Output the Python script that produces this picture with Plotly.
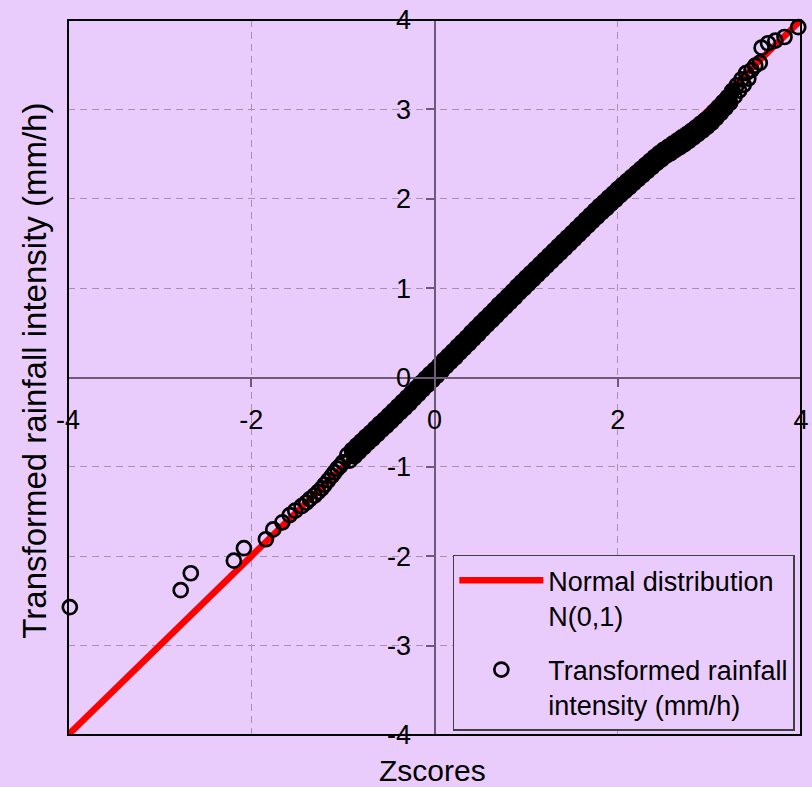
import plotly.graph_objects as go

# Normal reference line N(0,1)
normal_z = [-4, 4]
normal_y = [-4, 4]

# Lower tail of the sorted sample (z-score, transformed intensity)
tail_low_z = [
    -3.98, -2.77, -2.66, -2.19, -2.08, -1.84, -1.76, -1.66, -1.58, -1.52,
    -1.45, -1.40, -1.36, -1.31, -1.27, -1.23, -1.20, -1.16, -1.12, -1.09,
    -1.06, -1.03, -1.00,
]
tail_low_v = [
    -2.57, -2.38, -2.19, -2.05, -1.91, -1.81, -1.70, -1.62, -1.54, -1.49,
    -1.44, -1.40, -1.36, -1.32, -1.28, -1.24, -1.20, -1.15, -1.10, -1.06,
    -1.02, -0.99, -0.95,
]

# Bulk of the sample (dense band around the reference line)
bulk_z = [
    -0.950, -0.925, -0.900, -0.875,
    -0.850, -0.825, -0.800, -0.775,
    -0.750, -0.725, -0.700, -0.675,
    -0.650, -0.625, -0.600, -0.575,
    -0.550, -0.525, -0.500, -0.475,
    -0.450, -0.425, -0.400, -0.375,
    -0.350, -0.325, -0.300, -0.275,
    -0.250, -0.225, -0.200, -0.175,
    -0.150, -0.125, -0.100, -0.075,
    -0.050, -0.025, 0.000, 0.025,
    0.050, 0.075, 0.100, 0.125,
    0.150, 0.175, 0.200, 0.225,
    0.250, 0.275, 0.300, 0.325,
    0.350, 0.375, 0.400, 0.425,
    0.450, 0.475, 0.500, 0.525,
    0.550, 0.575, 0.600, 0.625,
    0.650, 0.675, 0.700, 0.725,
    0.750, 0.775, 0.800, 0.825,
    0.850, 0.875, 0.900, 0.925,
    0.950, 0.975, 1.000, 1.025,
    1.050, 1.075, 1.100, 1.125,
    1.150, 1.175, 1.200, 1.225,
    1.250, 1.275, 1.300, 1.325,
    1.350, 1.375, 1.400, 1.425,
    1.450, 1.475, 1.500, 1.525,
    1.550, 1.575, 1.600, 1.625,
    1.650, 1.675, 1.700, 1.725,
    1.750, 1.775, 1.800, 1.825,
    1.850, 1.875, 1.900, 1.925,
    1.950, 1.975, 2.000, 2.025,
    2.050, 2.075, 2.100, 2.125,
    2.150, 2.175, 2.200, 2.225,
    2.250, 2.275, 2.300, 2.325,
    2.350, 2.375, 2.400, 2.425,
    2.450, 2.475, 2.500, 2.525,
    2.550, 2.575, 2.600, 2.625,
    2.650, 2.675, 2.700, 2.725,
    2.750, 2.775, 2.800, 2.825,
    2.850, 2.875, 2.900, 2.925,
    2.950, 2.975, 3.000, 3.025,
    3.050, 3.075, 3.100, 3.125,
    3.150, 3.175, 3.200, 3.225,
    3.250, 3.275, 3.300, 3.325,
    3.350, 3.375, 3.400, 3.425,
]
bulk_v = [
    -0.865, -0.930, -0.815, -0.880,
    -0.765, -0.830, -0.715, -0.780,
    -0.665, -0.730, -0.620, -0.685,
    -0.570, -0.635, -0.520, -0.585,
    -0.475, -0.540, -0.425, -0.490,
    -0.375, -0.440, -0.325, -0.390,
    -0.275, -0.340, -0.225, -0.290,
    -0.170, -0.235, -0.120, -0.185,
    -0.065, -0.130, -0.015, -0.080,
    0.035, -0.030, 0.085, 0.020,
    0.135, 0.070, 0.190, 0.125,
    0.240, 0.175, 0.290, 0.225,
    0.345, 0.280, 0.395, 0.330,
    0.445, 0.380, 0.500, 0.435,
    0.550, 0.485, 0.605, 0.540,
    0.655, 0.590, 0.705, 0.640,
    0.755, 0.690, 0.810, 0.745,
    0.860, 0.795, 0.910, 0.845,
    0.960, 0.895, 1.015, 0.950,
    1.065, 1.000, 1.115, 1.050,
    1.165, 1.100, 1.215, 1.150,
    1.265, 1.200, 1.315, 1.250,
    1.365, 1.300, 1.415, 1.350,
    1.465, 1.400, 1.515, 1.450,
    1.565, 1.500, 1.615, 1.550,
    1.665, 1.600, 1.715, 1.650,
    1.765, 1.700, 1.815, 1.750,
    1.865, 1.800, 1.915, 1.850,
    1.960, 1.895, 2.010, 1.945,
    2.055, 1.990, 2.105, 2.040,
    2.150, 2.085, 2.195, 2.130,
    2.240, 2.175, 2.285, 2.220,
    2.330, 2.265, 2.375, 2.310,
    2.420, 2.355, 2.465, 2.400,
    2.505, 2.440, 2.545, 2.480,
    2.580, 2.510, 2.615, 2.545,
    2.650, 2.575, 2.685, 2.610,
    2.720, 2.645, 2.755, 2.685,
    2.795, 2.725, 2.835, 2.765,
    2.875, 2.805, 2.915, 2.850,
    2.970, 2.905, 3.025, 2.960,
    3.080, 3.015, 3.135, 3.075,
    3.205, 3.145, 3.270, 3.210,
    3.335, 3.275, 3.405, 3.345,
]

# Upper tail of the sorted sample
tail_high_z = [3.46, 3.50, 3.55, 3.57, 3.64, 3.72, 3.82, 3.97]
tail_high_v = [3.44, 3.49, 3.52, 3.69, 3.74, 3.77, 3.81, 3.92]

# Core of the band, where thousands of overlapping rings merge into solid black
CORE_LO, CORE_HI = -0.90, 3.25
core = [(z, v) for z, v in zip(bulk_z, bulk_v) if CORE_LO <= z <= CORE_HI]
edge = [(z, v) for z, v in zip(bulk_z, bulk_v) if not (CORE_LO <= z <= CORE_HI)]

zscores = tail_low_z + [z for z, _ in edge] + tail_high_z
intensity = tail_low_v + [v for _, v in edge] + tail_high_v

tick_vals_x = [-4, -2, 0, 2, 4]
tick_text_x = ["-4", "-2", "0", "2", "4"]
tick_vals_y = [-4, -3, -2, -1, 0, 1, 2, 3, 4]
tick_text_y = ["-4", "-3", "-2", "-1", "0", "1", "2", "3", "4"]

BG = "#EACCFC"
AXIS = "#6E5A78"
GRID = "#A592AE"
FONT = "Liberation Sans, Arial, sans-serif"

fig = go.Figure()

fig.add_trace(go.Scatter(
    x=normal_z, y=normal_y, mode="lines",
    name="Normal distribution<br>N(0,1)",
    line=dict(color="#FF0000", width=6.5),
    legendgroup="a",
))

# Dense core: heavier ring strokes so the overlapping markers read as one band
fig.add_trace(go.Scatter(
    x=[z for z, _ in core], y=[v for _, v in core], mode="markers",
    name="Transformed rainfall<br>intensity (mm/h)",
    marker=dict(symbol="circle", size=10, color="rgba(0,0,0,0)",
                line=dict(color="#000000", width=7)),
    cliponaxis=False, showlegend=False,
    legendgroup="b",
))

fig.add_trace(go.Scatter(
    x=zscores, y=intensity, mode="markers",
    name="Transformed rainfall<br>intensity (mm/h)",
    marker=dict(symbol="circle", size=14, color="rgba(0,0,0,0)",
                line=dict(color="#000000", width=2.7)),
    cliponaxis=False,
    legendgroup="b",
))

# Axes cross at the origin; tick labels sit next to the zero lines
axis_common = dict(
    showgrid=True, gridcolor=GRID, gridwidth=1, griddash="7px,5px",
    zeroline=False, showline=True, linecolor=AXIS, linewidth=2,
    ticks="outside", ticklen=8, tickwidth=1.5, tickcolor=AXIS,
    tickfont=dict(family=FONT, size=27, color="#000000"),
    anchor="free", position=0.5, automargin=False,
)

fig.update_xaxes(range=[-4, 4], tickvals=tick_vals_x, ticktext=tick_text_x,
                 ticklabelstandoff=10, **axis_common)
fig.update_yaxes(range=[-4, 4], tickvals=tick_vals_y, ticktext=tick_text_y,
                 ticklabelstandoff=9, **axis_common)

# Plot frame
fig.add_shape(type="rect", xref="paper", yref="paper", x0=0, y0=0, x1=1, y1=1,
              line=dict(color="#000000", width=2), layer="above")

# Axis titles
fig.add_annotation(text="Zscores", xref="paper", yref="paper", x=0.497, y=-0.05,
                   xanchor="center", yanchor="middle", showarrow=False,
                   font=dict(family=FONT, size=30, color="#000000"))
fig.add_annotation(text="Transformed rainfall intensity (mm/h)", xref="paper", yref="paper",
                   x=-0.046, y=0.51, textangle=-90, xanchor="center", yanchor="middle",
                   showarrow=False, font=dict(family=FONT, size=33, color="#000000"))

fig.update_layout(
    width=812, height=787,
    margin=dict(l=68, r=11, t=20, b=52),
    paper_bgcolor=BG, plot_bgcolor=BG,
    font=dict(family=FONT, color="#000000"),
    showlegend=True,
    legend=dict(
        x=0.525, y=0.252, xanchor="left", yanchor="top",
        bgcolor=BG, bordercolor="#404040", borderwidth=1.5,
        font=dict(family=FONT, size=27, color="#000000"),
        valign="top", itemwidth=84, tracegroupgap=16,
        traceorder="grouped",
    ),
)

fig.write_html("out.html")
